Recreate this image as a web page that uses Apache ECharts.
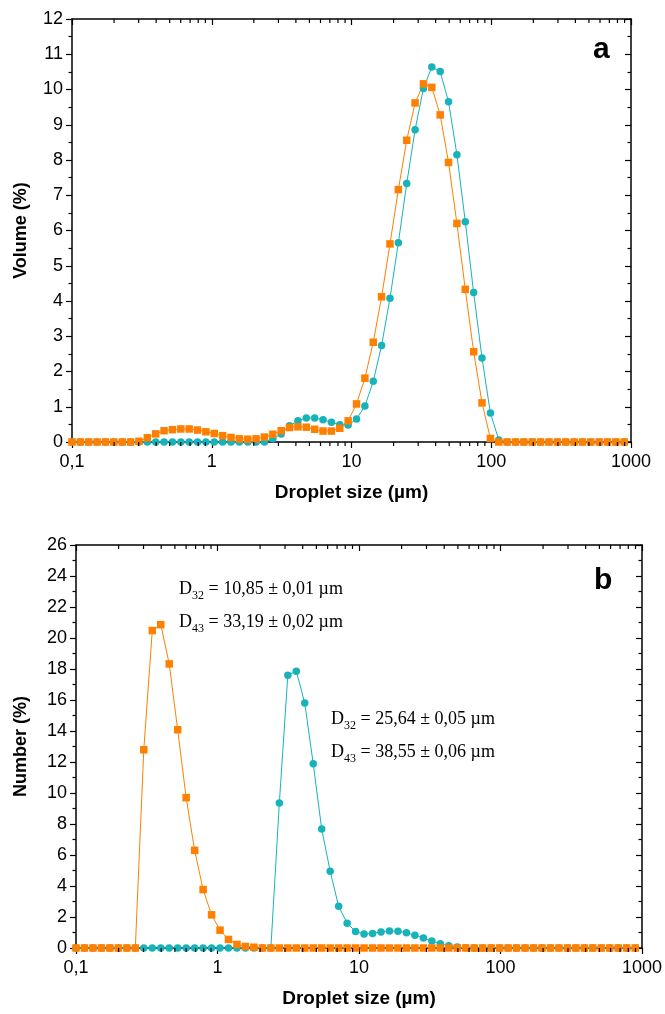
<!DOCTYPE html>
<html>
<head>
<meta charset="utf-8">
<script src="https://cdn.jsdelivr.net/npm/echarts@6/dist/echarts.min.js"></script>
<style>
  html, body { margin: 0; padding: 0; background: #fff; }
  #chart { width: 665px; height: 1014px; }
</style>
</head>
<body>
<div id="chart"></div>
<script>
// droplet size classes (µm), log spaced
var sizes = [0.1, 0.1148, 0.1318, 0.1512, 0.1736, 0.1993, 0.2288, 0.2626, 0.3014, 0.346,
	0.3972, 0.4559, 0.5233, 0.6006, 0.6894, 0.7913, 0.9082, 1.042, 1.196, 1.373,
	1.576, 1.809, 2.077, 2.384, 2.736, 3.141, 3.605, 4.138, 4.749, 5.451,
	6.257, 7.182, 8.244, 9.462, 10.86, 12.47, 14.31, 16.42, 18.85, 21.64,
	24.84, 28.51, 32.72, 37.56, 43.11, 49.48, 56.8, 65.19, 74.83, 85.89,
	98.63, 113.2, 129.9, 149.2, 171.2, 196.5, 225.5, 258.9, 297.2, 341.1,
	391.5, 449.4, 515.8, 592, 679.5, 780, 895.3];

// panel a : volume (%)
var volOrange = [0, 0, 0, 0, 0, 0, 0, 0, 0.02, 0.12,
	0.23, 0.32, 0.35, 0.37, 0.37, 0.34, 0.29, 0.24, 0.18, 0.13,
	0.09, 0.08, 0.09, 0.14, 0.22, 0.32, 0.41, 0.43, 0.42, 0.36,
	0.31, 0.31, 0.39, 0.60, 1.08, 1.81, 2.83, 4.12, 5.62, 7.16,
	8.56, 9.62, 10.16, 10.06, 9.28, 7.93, 6.20, 4.33, 2.56, 1.11,
	0.10, 0, 0, 0, 0, 0, 0, 0, 0, 0,
	0, 0, 0, 0, 0, 0, 0];
var volTeal = [0, 0, 0, 0, 0, 0, 0, 0, 0, 0,
	0, 0, 0, 0, 0, 0, 0, 0, 0, 0,
	0, 0, 0, 0, 0.09, 0.23, 0.46, 0.60, 0.68, 0.68,
	0.63, 0.56, 0.49, 0.48, 0.65, 1.02, 1.72, 2.74, 4.08, 5.65,
	7.33, 8.86, 10.03, 10.64, 10.51, 9.65, 8.15, 6.25, 4.24, 2.38,
	0.82, 0.06, 0, 0, 0, 0, 0, 0, 0, 0,
	0, 0, 0, 0, 0, 0, 0];

// panel b : number (%)
var numOrange = [0, 0, 0, 0, 0, 0, 0, 0, 12.79, 20.48,
	20.86, 18.33, 14.08, 9.70, 6.30, 3.77, 2.14, 1.15, 0.55, 0.23,
	0.10, 0.05, 0, 0, 0, 0, 0, 0, 0, 0,
	0, 0, 0, 0, 0, 0, 0, 0, 0, 0,
	0, 0, 0, 0, 0, 0, 0, 0, 0, 0,
	0, 0, 0, 0, 0, 0, 0, 0, 0, 0,
	0, 0, 0, 0, 0, 0, 0];
var numTeal = [0, 0, 0, 0, 0, 0, 0, 0, 0, 0,
	0, 0, 0, 0, 0, 0, 0, 0, 0, 0,
	0, 0, 0, 0, 9.36, 17.60, 17.86, 15.80, 11.89, 7.68,
	4.95, 2.69, 1.60, 1.06, 0.90, 0.94, 1.04, 1.10, 1.08, 0.98,
	0.83, 0.65, 0.45, 0.28, 0.15, 0.07, 0.02, 0, 0, 0,
	0, 0, 0, 0, 0, 0, 0, 0, 0, 0,
	0, 0, 0, 0, 0, 0, 0];

// minor x tick positions (2..9 of each decade)
var minorTicks = [0.2, 0.3, 0.4, 0.5, 0.6, 0.7, 0.8, 0.9,
	2, 3, 4, 5, 6, 7, 8, 9,
	20, 30, 40, 50, 60, 70, 80, 90,
	200, 300, 400, 500, 600, 700, 800, 900];

var ORANGE = '#ff7f00';
var TEAL = '#17b3bb';
var SANS = 'Liberation Sans';
var SERIF = 'Liberation Serif';

var pairs = function(vals) {
	var out = [];
	for (var i = 0; i < sizes.length; i++) out.push([sizes[i], vals[i]]);
	return out;
};

// log x axis
var xAxisOf = function(grid, pos, inside, withLabel) {
	return {
		type: 'log', logBase: 10, min: 0.1, max: 1000, gridIndex: grid, position: pos,
		name: withLabel ? 'Droplet size (µm)' : '',
		nameLocation: 'middle', nameGap: 41,
		nameTextStyle: { fontFamily: SANS, fontWeight: 'bold', fontSize: 19, color: '#000' },
		axisLine: { show: true, onZero: false, lineStyle: { color: '#000', width: 1.5 } },
		axisTick: { show: true, inside: inside, length: 6, lineStyle: { color: '#000', width: 1.2 } },
		axisLabel: { show: withLabel, fontFamily: SANS, fontSize: 18, color: '#000', margin: 11,
			formatter: function(v) { return String(v).replace('.', ','); } },
		splitLine: { show: false }, minorTick: { show: false }
	};
};

var yAxisOf = function(grid, pos, inside, max, step, name, nameGap) {
	return {
		type: 'value', min: 0, max: max, interval: step, gridIndex: grid, position: pos,
		name: name, nameLocation: 'middle', nameGap: nameGap,
		nameTextStyle: { fontFamily: SANS, fontWeight: 'bold', fontSize: 18, color: '#000' },
		axisLine: { show: true, onZero: false, lineStyle: { color: '#000', width: 1.5 } },
		axisTick: { show: true, inside: inside, length: 6, lineStyle: { color: '#000', width: 1.2 } },
		minorTick: { show: true, splitNumber: 2, length: 3.5, lineStyle: { color: '#000', width: 1.2 } },
		axisLabel: { show: name !== '', fontFamily: SANS, fontSize: 18, color: '#000', margin: 9 },
		splitLine: { show: false }
	};
};

var lineSeries = function(name, vals, color, shape, xi, yi) {
	return {
		name: name, type: 'line', xAxisIndex: xi, yAxisIndex: yi,
		data: pairs(vals), symbol: shape, symbolSize: 7.5,
		showAllSymbol: true,
		lineStyle: { color: color, width: 1 },
		itemStyle: { color: color }
	};
};

var dText = function(x, y, sub, rest) {
	return {
		type: 'text', x: x, y: y,
		style: {
			text: '{m|D}{s|' + sub + '}{m| = ' + rest + '}',
			textAlign: 'left', textVerticalAlign: 'middle', fill: '#000',
			rich: {
				m: { fontFamily: SERIF, fontSize: 18, lineHeight: 26, color: '#000' },
				s: { fontFamily: SERIF, fontSize: 12, lineHeight: 12, verticalAlign: 'bottom', color: '#000' }
			}
		}
	};
};

var graphics = [
	{ type: 'text', x: 593, y: 50, style: { text: 'a', font: 'bold 30px "Liberation Sans"', fill: '#000', textVerticalAlign: 'middle' } },
	{ type: 'text', x: 594, y: 581, style: { text: 'b', font: 'bold 30px "Liberation Sans"', fill: '#000', textVerticalAlign: 'middle' } },
	dText(179, 589, '32', '10,85 ± 0,01 µm'),
	dText(179, 622, '43', '33,19 ± 0,02 µm'),
	dText(331, 719, '32', '25,64 ± 0,05 µm'),
	dText(331, 752, '43', '38,55 ± 0,06 µm')
];

var option = {
	animation: false,
	backgroundColor: '#fff',
	grid: [
		{ left: 72, top: 19, width: 559, height: 423 },
		{ left: 76, top: 545, width: 574, height: 403 }
	],
	xAxis: [
		xAxisOf(0, 'bottom', false, true),
		xAxisOf(0, 'top', true, false),
		xAxisOf(1, 'bottom', false, true),
		xAxisOf(1, 'top', true, false)
	],
	yAxis: [
		yAxisOf(0, 'left', false, 12, 1, 'Volume (%)', 42),
		yAxisOf(0, 'right', true, 12, 1, '', 0),
		yAxisOf(1, 'left', false, 26, 2, 'Number (%)', 46),
		yAxisOf(1, 'right', true, 26, 2, '', 0)
	],
	series: [
		lineSeries('teal a', volTeal, TEAL, 'circle', 0, 0),
		lineSeries('orange a', volOrange, ORANGE, 'rect', 0, 0),
		lineSeries('teal b', numTeal, TEAL, 'circle', 2, 2),
		lineSeries('orange b', numOrange, ORANGE, 'rect', 2, 2)
	],
	graphic: graphics
};

var myChart = echarts.init(document.getElementById('chart'), null, { renderer: 'canvas' });
myChart.setOption(option);

// minor log ticks (2..9 per decade): positions taken from the chart's own scales
var addMinorTicks = function(xi, yi, ymax) {
	for (var i = 0; i < minorTicks.length; i++) {
		var b = myChart.convertToPixel({ xAxisIndex: xi, yAxisIndex: yi }, [minorTicks[i], 0]);
		var t = myChart.convertToPixel({ xAxisIndex: xi, yAxisIndex: yi }, [minorTicks[i], ymax]);
		if (!b || !t) continue;
		graphics.push({ type: 'line', z: 10, shape: { x1: b[0], y1: b[1], x2: b[0], y2: b[1] + 4 },
			style: { stroke: '#000', lineWidth: 1.2 } });
		graphics.push({ type: 'line', z: 10, shape: { x1: t[0], y1: t[1], x2: t[0], y2: t[1] + 4 },
			style: { stroke: '#000', lineWidth: 1.2 } });
	}
};
addMinorTicks(0, 0, 12);
addMinorTicks(2, 2, 26);
myChart.setOption({ graphic: graphics });
</script>
</body>
</html>
